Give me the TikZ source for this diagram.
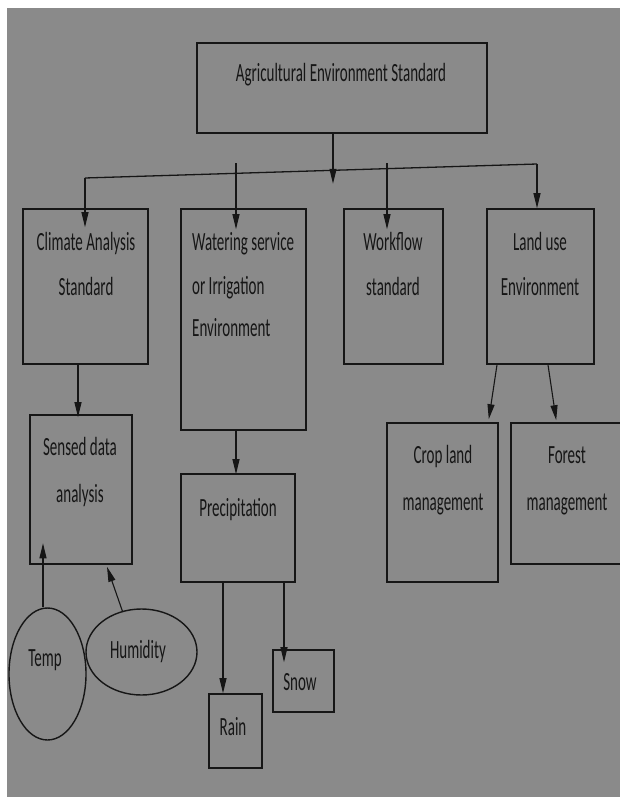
\documentclass[tikz,border=0pt]{standalone}
\usepackage{fontspec}
\usepackage{graphicx}
\setmainfont{Carlito}
\usetikzlibrary{arrows.meta,shapes.geometric}
\definecolor{bg}{RGB}{138,138,138}
\definecolor{ink}{RGB}{22,22,22}
\newcommand\stretchtxt[1]{\scalebox{1}[1.75]{#1}}
\tikzset{
  box/.style={draw=ink, line width=1.6pt, rectangle, inner sep=0pt},
  oval/.style={draw=ink, line width=1.4pt, ellipse, inner sep=0pt},
  txt/.style={text=ink, inner sep=0pt, anchor=base, font=\fontsize{15}{18}\selectfont},
  ltxt/.style={txt, anchor=base west},
  arr/.style={draw=ink, line width=1.1pt, -{Triangle[length=15pt,width=7pt]}},
  bus/.style={draw=ink, line width=1.3pt}
}
\begin{document}
\begin{tikzpicture}[x=1pt,y=-1pt]
\useasboundingbox (0,0) rectangle (620,797);
\fill[white] (0,0) rectangle (620,797);
\fill[bg] (7,8) rectangle (620,797);

% boxes
\node[box, minimum width=290pt, minimum height=90pt] (top) at (342,88) {};
\node[box, minimum width=125pt, minimum height=155pt] (clim) at (85.5,286.5) {};
\node[box, minimum width=125pt, minimum height=221pt] (wat) at (243.5,319.5) {};
\node[box, minimum width=99pt, minimum height=155pt] (work) at (393.5,286.5) {};
\node[box, minimum width=107pt, minimum height=155pt] (land) at (540.5,286.5) {};
\node[box, minimum width=102pt, minimum height=149pt] (sens) at (81,489.5) {};
\node[box, minimum width=114pt, minimum height=108pt] (prec) at (238,528) {};
\node[box, minimum width=53pt, minimum height=74pt] (rain) at (235.5,731) {};
\node[box, minimum width=61pt, minimum height=62pt] (snow) at (303.5,681) {};
\node[box, minimum width=111pt, minimum height=159pt] (crop) at (442.5,502.5) {};
\node[box, minimum width=120pt, minimum height=141pt] (forest) at (571,493.5) {};
\node[oval, minimum width=77pt, minimum height=132pt] (temp) at (47.5,674) {};
\node[oval, minimum width=111pt, minimum height=86pt] (hum) at (141.5,652) {};

% texts
\node[txt] (t0) at (341,82) {\stretchtxt{Agricultural Environment Standard}};
\node[txt] (t1) at (86,250) {\stretchtxt{Climate Analysis}};
\node[txt] (t2) at (86,295) {\stretchtxt{Standard}};
\node[ltxt] (t3) at (192,250) {\stretchtxt{Watering service}};
\node[ltxt] (t4) at (192,294) {\stretchtxt{or Irrigation}};
\node[ltxt] (t5) at (192,336) {\stretchtxt{Environment}};
\node[txt] (t6) at (393,250) {\stretchtxt{Workflow}};
\node[txt] (t7) at (393,295) {\stretchtxt{standard}};
\node[txt] (t8) at (540,250) {\stretchtxt{Land use}};
\node[txt] (t9) at (540,295) {\stretchtxt{Environment}};
\node[txt] (t10) at (80,455) {\stretchtxt{Sensed data}};
\node[txt] (t11) at (80,502) {\stretchtxt{analysis}};
\node[txt] (t12) at (238,516) {\stretchtxt{Precipitation}};
\node[txt] (t13) at (233,735) {\stretchtxt{Rain}};
\node[txt] (t14) at (300,690) {\stretchtxt{Snow}};
\node[txt] (t15) at (443,463) {\stretchtxt{Crop land}};
\node[txt] (t16) at (443,510) {\stretchtxt{management}};
\node[txt] (t17) at (567,463) {\stretchtxt{Forest}};
\node[txt] (t18) at (567,510) {\stretchtxt{management}};
\node[txt] (t19) at (45,666) {\stretchtxt{Temp}};
\node[txt] (t20) at (138,658) {\stretchtxt{Humidity}};

% bus
\coordinate (busL) at (85,178);
\coordinate (busR) at (537,164);
\coordinate (w1) at (236,163);
\coordinate (w2) at (387,163);
\draw[bus] (busL) -- (busR);
\draw[arr] ([xshift=-9pt]top.south) -- ++(0,50);
\draw[arr, shorten >=-19pt] (busL) -- (busL |- clim.north);
\draw[arr, shorten >=-21pt] (w1) -- (w1 |- wat.north);
\draw[arr, shorten >=-21pt] (w2) -- (w2 |- work.north);
\draw[arr] (busR) -- (busR |- land.north);

% lower connectors
\draw[arr, shorten >=-3pt] ([xshift=-3pt]sens.north |- clim.south) -- ([xshift=-3pt]sens.north);
\draw[arr, shorten >=-1pt] ([xshift=-7.5pt]wat.south) -- ([xshift=-7.5pt]wat.south |- prec.north);
\draw[arr] ([xshift=-15pt]prec.south) -- ([xshift=-15pt]prec.south |- rain.north);
\coordinate (p2) at ([xshift=46pt]prec.south);
\draw[arr, shorten >=-13pt] (p2) -- (p2 |- snow.north);
\draw[arr] ([xshift=-43.5pt]land.south) -- ([xshift=-10pt,yshift=3pt]crop.north east);
\draw[arr] ([xshift=7.5pt]land.south) -- ([xshift=46pt,yshift=2pt]forest.north west);
\draw[arr] ([xshift=-4.5pt]temp.north) -- ++(0,-64);
\draw[arr] (hum.115) -- ([xshift=26pt,yshift=-2pt]sens.south);
\end{tikzpicture}
\end{document}
